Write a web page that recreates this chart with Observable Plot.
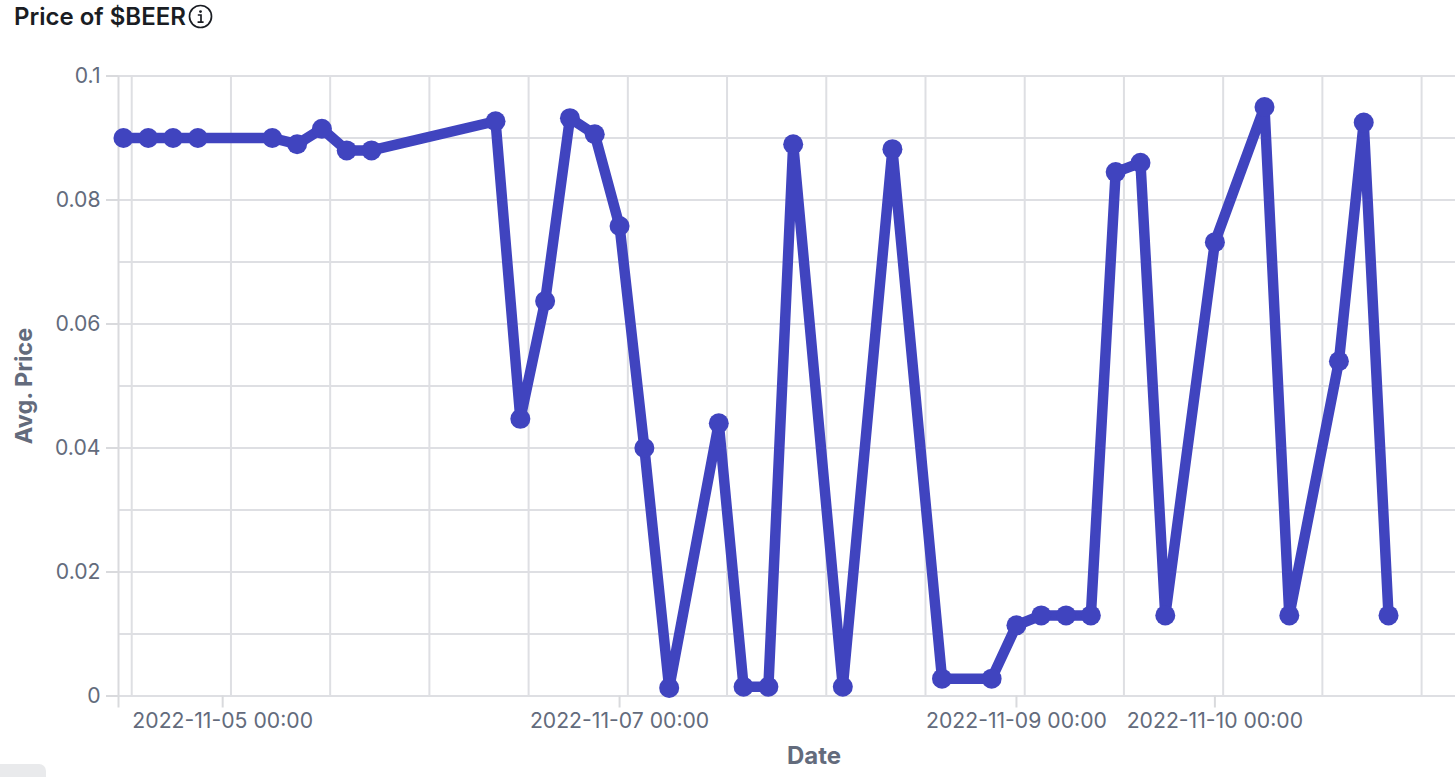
<!DOCTYPE html>
<html><head><meta charset="utf-8">
<script src="https://cdn.jsdelivr.net/npm/d3@7"></script>
<script src="https://cdn.jsdelivr.net/npm/@observablehq/plot@0.6"></script>
<style>
html,body{margin:0;padding:0;background:#fff;overflow:hidden}
#wrap{position:relative;width:1455px;height:777px;font-family:Inter,sans-serif}
#title{position:absolute;left:14px;top:4px;font-size:24px;font-weight:600;color:#1a1d23;line-height:24px;display:flex;align-items:center;gap:2px}
#icon{width:25px;height:25px;display:block}
#chip{position:absolute;left:0;top:764px;width:46px;height:13px;background:#e9eaec;border-top-right-radius:7px}
#chart{position:absolute;left:0;top:0}
</style></head><body>
<div id="wrap">
<div id="chart"></div>
<div id="title"><span>Price of $BEER</span>
<svg id="icon" viewBox="0 0 25 25"><circle cx="12.5" cy="12.5" r="11" fill="none" stroke="#1a1d23" stroke-width="1.7"/><circle cx="12.5" cy="7.6" r="1.4" fill="#1a1d23"/><path d="M9.8 11h3.2v7M9.6 18.2h6" fill="none" stroke="#1a1d23" stroke-width="1.7"/></svg></div>
<div id="chip"></div>
</div>
<script>
const hours = [-12,-9,-6,-3,6,9,12,15,18,33,36,39,42,45,48,51,54,60,63,66,69,75,81,87,93,96,99,102,105,108,111,114,120,126,129,135,138,141];
const prices = [0.09,0.09,0.09,0.09,0.09,0.089,0.0915,0.088,0.088,0.0927,0.0447,0.0637,0.0932,0.0906,0.0758,0.04,0.0013,0.044,0.0015,0.0015,0.089,0.0015,0.0882,0.0028,0.0028,0.0114,0.013,0.013,0.013,0.0845,0.086,0.013,0.0732,0.095,0.013,0.054,0.0925,0.013];
const labelTicks = ["2022-11-05","2022-11-07","2022-11-09","2022-11-10"];
const yMajor = [0,0.02,0.04,0.06,0.08,0.1];
const yGrid = [0,0.01,0.02,0.03,0.04,0.05,0.06,0.07,0.08,0.09,0.1];
const gridHours = [-11,1,13,25,37,49,61,73,85,97,109,121,133,145,157];

const base = Date.UTC(2022,10,5);
const T = h => new Date(base + h*3600e3);
const data = hours.map((h,i)=>({t:T(h),p:prices[i]}));
const ink = "#4044bf", gridC = "#dedfe3", tickC="#d9dadd", textC="#636b7c";
const fmt = d => d3.utcFormat("%Y-%m-%d %H:%M")(d);
const xStart = T(-12.6), xEnd = T(149.1);
const xTicks = [xStart,...labelTicks.map(d=>new Date(d+"T00:00:00Z"))];

const plot = Plot.plot({
  width:1455, height:777,
  marginLeft:118, marginRight:0, marginTop:75.5, marginBottom:81.5,
  style:{fontFamily:"Inter,sans-serif",background:"transparent"},
  x:{type:"utc",domain:[xStart,xEnd],label:null,axis:null},
  y:{domain:[0,0.1],label:null,axis:null},
  marks:[
    Plot.ruleY(yGrid,{stroke:gridC,strokeWidth:2,strokeOpacity:1}),
    Plot.ruleX(gridHours.map(T).filter(d=>d<=xEnd),{stroke:gridC,strokeWidth:2,strokeOpacity:1}),
    Plot.ruleX([xStart],{stroke:tickC,strokeWidth:2}),
    Plot.axisX(xTicks,{tickSize:12,stroke:tickC,strokeWidth:2,strokeOpacity:1,fontVariant:"normal",
       tickFormat:d=>+d===+xStart?"":fmt(d),fontSize:21.2,fill:textC,tickPadding:5,label:null,textStroke:"none"}),
    Plot.axisY(yMajor,{tickSize:12,stroke:tickC,strokeWidth:2,strokeOpacity:1,fontVariant:"normal",tickFormat:d=>String(d),fontSize:21.2,fill:textC,tickPadding:6,label:null}),
    Plot.line(data,{x:"t",y:"p",stroke:ink,strokeWidth:10.5,curve:"linear"}),
    Plot.dot(data,{x:"t",y:"p",r:10,fill:ink,stroke:"none"}),
    Plot.text(["Avg. Price"],{frameAnchor:"left",textAnchor:"middle",dx:-94,rotate:-90,fontSize:23.5,fontWeight:700,fill:textC}),
    Plot.text(["Date"],{frameAnchor:"bottom",dx:27,dy:67.5,fontSize:24,fontWeight:700,fill:textC})
  ]
});
document.getElementById("chart").append(plot);
</script>
</body></html>
